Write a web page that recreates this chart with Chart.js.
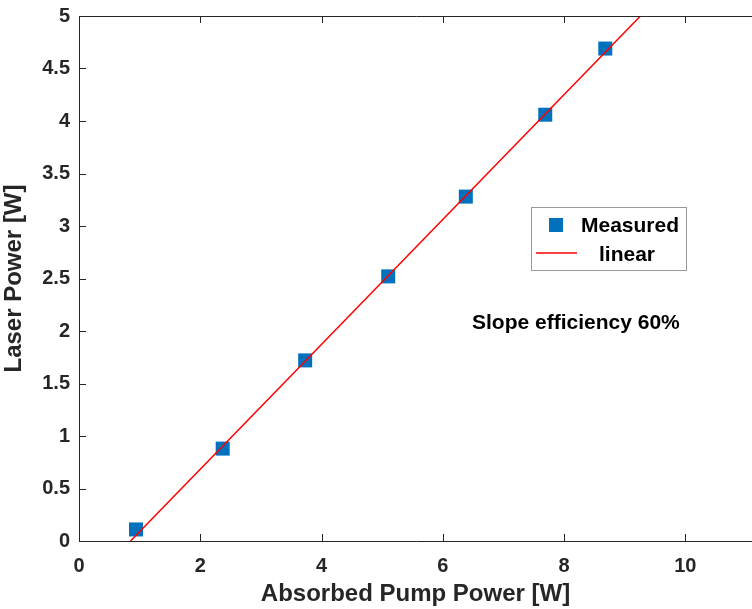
<!DOCTYPE html>
<html>
<head>
<meta charset="utf-8">
<script src="https://cdn.jsdelivr.net/npm/chart.js@4/dist/chart.umd.min.js"></script>
<style>
html,body{margin:0;padding:0;background:#fff;overflow:hidden;}
#wrap{width:752px;height:609px;position:relative;}
</style>
</head>
<body>
<div id="wrap"><canvas id="c" width="752" height="609"></canvas></div>
<script>
// Data
const measuredX = [0.94, 2.37, 3.73, 5.10, 6.38, 7.69, 8.68];
const measuredY = [0.11, 0.88, 1.72, 2.52, 3.28, 4.06, 4.69];
const linearX = [0.85, 9.26];
const linearY = [0, 5];
const xTicks = [0, 2, 4, 6, 8, 10];
const yTicks = [0, 0.5, 1, 1.5, 2, 2.5, 3, 3.5, 4, 4.5, 5];
const legendLabels = ['Measured', 'linear'];
const annotationText = 'Slope efficiency 60%';
const xTitle = 'Absorbed Pump Power [W]';
const yTitle = 'Laser Power [W]';

const axisColor = '#262626';
const FONT = '"Liberation Sans", Arial, Helvetica, sans-serif';

const decor = {
  id: 'decor',
  afterDatasetsDraw(chart) {
    const ctx = chart.ctx;
    const a = chart.chartArea;
    const xs = chart.scales.x, ys = chart.scales.y;
    ctx.save();
    ctx.strokeStyle = axisColor;
    ctx.lineWidth = 1;
    // frame: left, bottom, top
    ctx.beginPath();
    ctx.moveTo(a.left + 0.5, a.bottom + 0.5);
    ctx.lineTo(a.left + 0.5, a.top + 0.5);
    ctx.lineTo(a.right + 5, a.top + 0.5);
    ctx.moveTo(a.left + 0.5, a.bottom + 0.5);
    ctx.lineTo(a.right + 5, a.bottom + 0.5);
    ctx.stroke();
    // inward ticks
    ctx.beginPath();
    xTicks.forEach(v => {
      const px = Math.round(xs.getPixelForValue(v)) + 0.5;
      ctx.moveTo(px, a.bottom); ctx.lineTo(px, a.bottom - 7);
      ctx.moveTo(px, a.top); ctx.lineTo(px, a.top + 7);
    });
    yTicks.forEach(v => {
      const py = Math.round(ys.getPixelForValue(v)) + 0.5;
      ctx.moveTo(a.left, py); ctx.lineTo(a.left + 7, py);
    });
    ctx.stroke();

    // legend box
    const bx = 531, by = 207, bw = 155, bh = 63;
    ctx.fillStyle = '#fff';
    ctx.fillRect(bx, by, bw, bh);
    ctx.strokeStyle = '#999999';
    ctx.strokeRect(bx + 0.5, by + 0.5, bw, bh);
    ctx.fillStyle = '#0072BD';
    ctx.fillRect(549, 218, 14, 14);
    ctx.strokeStyle = '#FF0000';
    ctx.lineWidth = 1.5;
    ctx.beginPath();
    ctx.moveTo(536, 253); ctx.lineTo(577, 253);
    ctx.stroke();
    ctx.fillStyle = '#000';
    ctx.font = 'bold 21px ' + FONT;
    ctx.textBaseline = 'middle';
    ctx.textAlign = 'left';
    ctx.fillText(legendLabels[0], 581, 226);
    ctx.fillText(legendLabels[1], 599, 255);

    // annotation
    ctx.font = 'bold 21px ' + FONT;
    ctx.fillText(annotationText, 472, 323);
    ctx.restore();
  }
};

new Chart(document.getElementById('c'), {
  type: 'scatter',
  data: {
    datasets: [
      {
        label: legendLabels[0],
        data: measuredX.map((x, i) => ({x, y: measuredY[i]})),
        pointStyle: 'rect',
        pointRadius: 9.9,
        pointHoverRadius: 9.9,
        backgroundColor: '#0072BD',
        borderColor: '#0072BD',
        borderWidth: 0,
        order: 1
      },
      {
        label: legendLabels[1],
        data: linearX.map((x, i) => ({x, y: linearY[i]})),
        showLine: true,
        pointRadius: 0,
        borderColor: '#FF0000',
        borderWidth: 1.5,
        order: 0
      }
    ]
  },
  plugins: [decor],
  options: {
    responsive: false,
    animation: false,
    events: [],
    layout: { autoPadding: false, padding: { left: 0, right: 0, top: 16, bottom: 0 } },
    plugins: { legend: { display: false }, tooltip: { enabled: false } },
    scales: {
      x: {
        type: 'linear',
        min: 0, max: 11.1,
        afterBuildTicks(s) { s.ticks = xTicks.map(v => ({value: v})); },
        afterFit(s) { s.height = 68; s.paddingLeft = 0; s.paddingRight = 0; },
        grid: { display: false, drawTicks: false },
        border: { display: false },
        ticks: { color: axisColor, padding: 13, font: { family: FONT, size: 20, weight: 'bold' }, maxRotation: 0 },
        title: { display: true, text: xTitle, color: axisColor, padding: { top: 0, bottom: 0 }, font: { family: FONT, size: 24, weight: 'bold' } }
      },
      y: {
        type: 'linear',
        min: 0, max: 5,
        afterBuildTicks(s) { s.ticks = yTicks.map(v => ({value: v})); },
        afterFit(s) { s.width = 79; s.paddingTop = 0; s.paddingBottom = 0; },
        grid: { display: false, drawTicks: false },
        border: { display: false },
        ticks: { color: axisColor, padding: 9, font: { family: FONT, size: 20, weight: 'bold' }, callback: v => String(v) },
        title: { display: true, text: yTitle, color: axisColor, padding: { top: 0, bottom: 6 }, font: { family: FONT, size: 24, weight: 'bold' } }
      }
    }
  }
});
</script>
</body>
</html>
